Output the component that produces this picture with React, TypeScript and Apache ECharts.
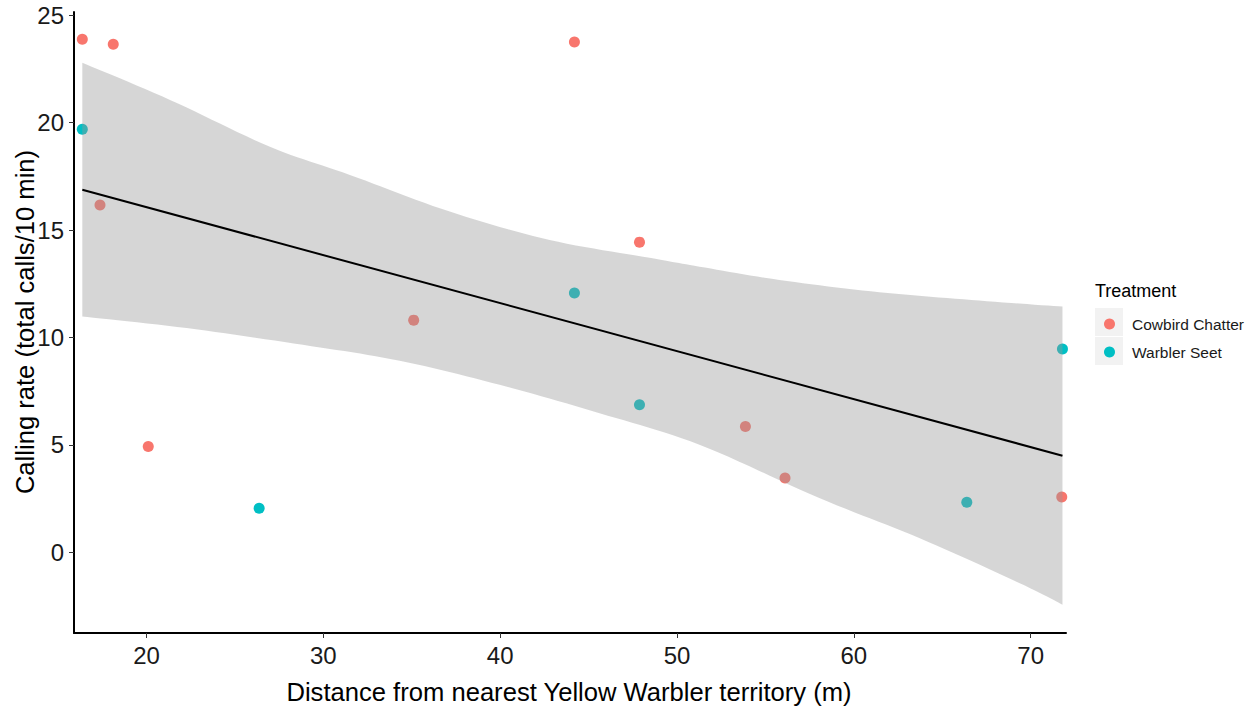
import React, { useEffect, useRef } from "react";
import * as echarts from "echarts";

// Cowbird Chatter treatment (x: distance m, y: calling rate)
const cowbirdX = [16.37, 18.12, 44.2, 17.37, 47.88, 35.11, 20.1, 53.87, 56.11, 71.76];
const cowbirdY = [23.88, 23.65, 23.75, 16.17, 14.44, 10.81, 4.93, 5.86, 3.46, 2.58];

// Warbler Seet treatment
const warblerX = [16.37, 44.2, 47.88, 26.37, 66.39, 71.8];
const warblerY = [19.69, 12.07, 6.87, 2.06, 2.34, 9.47];

// Fitted linear trend (end points)
const fitX = [16.37, 71.8];
const fitY = [16.88, 4.5];

// Confidence band edges
const bandUpperX = [16.37, 21.33, 26.98, 31.5, 37.15, 42.8, 48.45, 51.27, 55.79, 61.44, 67.09, 71.8];
const bandUpperY = [22.79, 21.06, 18.88, 17.57, 15.86, 14.54, 13.71, 13.3, 12.68, 12.11, 11.72, 11.44];
const bandLowerX = [16.37, 22.27, 28.84, 34.32, 39.97, 45.62, 51.27, 58.05, 63.7, 69.35, 71.8];
const bandLowerY = [10.98, 10.44, 9.66, 8.92, 7.8, 6.48, 5.01, 2.53, 0.67, -1.42, -2.43];

// Tick labels
const xTicks = [20, 30, 40, 50, 60, 70];
const yTicks = [0, 5, 10, 15, 20, 25];

const seriesNames = ["Cowbird Chatter", "Warbler Seet"];
const legendTitle = "Treatment";
const xTitle = "Distance from nearest Yellow Warbler territory (m)";
const yTitle = "Calling rate (total calls/10 min)";

const FONT = "'Liberation Sans', Arial, sans-serif";

// Catmull-Rom smoothing of a pixel polyline (rendering only)
function smoothPixels(pts: number[][], steps = 12): number[][] {
  const out: number[][] = [];
  const n = pts.length;
  for (let i = 0; i < n - 1; i++) {
    const p0 = pts[Math.max(i - 1, 0)];
    const p1 = pts[i];
    const p2 = pts[i + 1];
    const p3 = pts[Math.min(i + 2, n - 1)];
    for (let s = 0; s < steps; s++) {
      const t = s / steps;
      const t2 = t * t;
      const t3 = t2 * t;
      const f = (a: number, b: number, c: number, d: number) =>
        0.5 * (2 * b + (-a + c) * t + (2 * a - 5 * b + 4 * c - d) * t2 + (-a + 3 * b - 3 * c + d) * t3);
      out.push([f(p0[0], p1[0], p2[0], p3[0]), f(p0[1], p1[1], p2[1], p3[1])]);
    }
  }
  out.push(pts[n - 1]);
  return out;
}

export default function App() {
  const ref = useRef<HTMLDivElement>(null);

  useEffect(() => {
    if (!ref.current) return;
    const chart = echarts.init(ref.current, undefined, { renderer: "svg" });

    const zip = (xs: number[], ys: number[]) => xs.map((x, i) => [x, ys[i]]);
    const upper = zip(bandUpperX, bandUpperY);
    const lower = zip(bandLowerX, bandLowerY);
    const bandData = upper.concat(lower);

    const axisCommon = {
      type: "value" as const,
      splitLine: { show: false },
      axisLine: { show: true, onZero: false, lineStyle: { color: "#000", width: 2 } },
    };

    chart.setOption({
      animation: false,
      backgroundColor: "#ffffff",
      textStyle: { fontFamily: FONT },
      grid: { left: 74, top: 12, width: 992, height: 621 },
      xAxis: {
        ...axisCommon,
        min: 15.9,
        max: 72,
        axisTick: { show: true, length: 5, customValues: xTicks, lineStyle: { color: "#333", width: 1 } },
        axisLabel: { customValues: xTicks, fontSize: 24, color: "#1a1a1a", margin: 10, fontFamily: FONT },
      },
      yAxis: {
        ...axisCommon,
        min: -3.75,
        max: 25.15,
        axisTick: { show: true, length: 5, customValues: yTicks, lineStyle: { color: "#333", width: 1 } },
        axisLabel: { customValues: yTicks, fontSize: 24, color: "#1a1a1a", margin: 10, fontFamily: FONT },
      },
      legend: {
        data: seriesNames,
        orient: "vertical",
        left: 1104,
        top: 315,
        padding: 0,
        itemWidth: 11,
        itemHeight: 11,
        itemGap: 10,
        icon: "circle",
        formatter: "{n|{name}}",
        textStyle: {
          fontSize: 15.5,
          color: "#1a1a1a",
          fontFamily: FONT,
          lineHeight: 18,
          rich: { n: { fontSize: 15.5, color: "#1a1a1a", fontFamily: FONT, padding: [0, 0, 0, 12], lineHeight: 18 } },
        },
      },
      graphic: [
        { type: "rect", shape: { x: 1095, y: 308, width: 28, height: 28 }, style: { fill: "#f2f2f2" }, z: -1 },
        { type: "rect", shape: { x: 1095, y: 337, width: 28, height: 28 }, style: { fill: "#f2f2f2" }, z: -1 },
        {
          type: "text",
          x: 1095,
          y: 291,
          style: { text: legendTitle, fill: "#000", font: `18px ${FONT}`, verticalAlign: "middle", align: "left" },
        },
        {
          type: "text",
          x: 569,
          y: 692,
          style: { text: xTitle, fill: "#000", font: `25.6px ${FONT}`, verticalAlign: "middle", align: "center" },
        },
        {
          type: "text",
          x: 25,
          y: 322,
          rotation: Math.PI / 2,
          style: { text: yTitle, fill: "#000", font: `25.6px ${FONT}`, verticalAlign: "middle", align: "center" },
        },
      ],
      series: [
        {
          name: seriesNames[0],
          type: "scatter",
          data: zip(cowbirdX, cowbirdY),
          symbolSize: 11,
          itemStyle: { color: "#F8766D", opacity: 1 },
          z: 2,
        },
        {
          name: seriesNames[1],
          type: "scatter",
          data: zip(warblerX, warblerY),
          symbolSize: 11,
          itemStyle: { color: "#00BFC4", opacity: 1 },
          z: 2,
        },
        {
          name: "band",
          type: "custom",
          data: bandData,
          encode: { x: 0, y: 1 },
          z: 3,
          silent: true,
          renderItem: (params: any, api: any) => {
            if (params.dataIndex !== 0) return { type: "group", children: [] };
            const up = smoothPixels(upper.map((p) => api.coord(p)));
            const lo = smoothPixels(lower.map((p) => api.coord(p)));
            const pts = up.concat(lo.reverse());
            return {
              type: "polygon",
              shape: { points: pts },
              style: { fill: "rgba(153,153,153,0.4)", stroke: "none" },
            };
          },
        },
        {
          name: "fit",
          type: "line",
          data: zip(fitX, fitY),
          showSymbol: false,
          symbol: "none",
          lineStyle: { color: "#000", width: 2 },
          z: 4,
        },
      ],
    });

    return () => chart.dispose();
  }, []);

  return <div ref={ref} style={{ position: "absolute", left: 0, top: 0, width: 1254, height: 713 }} />;
}
